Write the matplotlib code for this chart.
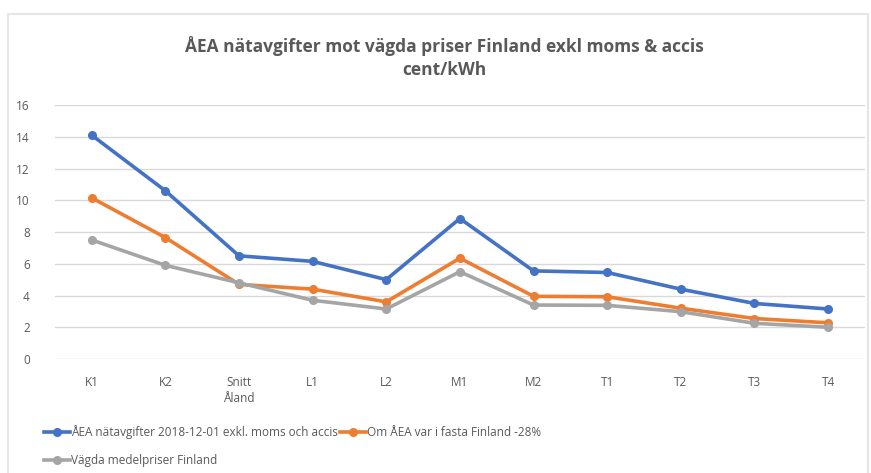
import matplotlib.pyplot as plt
from matplotlib.patches import Rectangle

plt.rcParams['font.family'] = ['Open Sans', 'DejaVu Sans']

# categories and values (cent/kWh)
categories = ['K1', 'K2', 'Snitt\nÅland', 'L1', 'L2', 'M1', 'M2', 'T1', 'T2', 'T3', 'T4']
aea_fees = [14.1, 10.6, 6.5, 6.15, 5.0, 8.85, 5.55, 5.45, 4.4, 3.5, 3.15]
aea_minus28 = [10.15, 7.65, 4.7, 4.4, 3.6, 6.35, 3.95, 3.92, 3.2, 2.55, 2.28]
fin_avg = [7.5, 5.9, 4.8, 3.7, 3.15, 5.5, 3.4, 3.38, 2.98, 2.25, 2.0]

labels = ['ÅEA nätavgifter 2018-12-01 exkl. moms och accis',
          'Om ÅEA var i fasta Finland -28%',
          'Vägda medelpriser Finland']
colors = ['#4472C4', '#ED7D31', '#A5A5A5']
txt = '#595959'

fig = plt.figure(figsize=(8.71, 4.73), dpi=100)
ax = fig.add_axes([0.063, 0.241, 0.93, 0.537])

x = range(len(categories))
lines = []
for vals, lab, col in zip([aea_fees, aea_minus28, fin_avg], labels, colors):
    ln, = ax.plot(x, vals, color=col, lw=2.6, marker='o', ms=5.5, label=lab)
    lines.append(ln)

ax.set_xlim(-0.5, len(categories) - 0.5)
ax.set_ylim(0, 16)
ax.set_yticks(range(0, 17, 2))
ax.set_xticks(list(x))
ax.set_xticklabels(categories, linespacing=1.35)
ax.grid(axis='y', color='#D9D9D9', lw=1)
ax.set_axisbelow(True)
for s in ax.spines.values():
    s.set_visible(False)
ax.tick_params(length=0, colors=txt, labelsize=8.5)
ax.tick_params(axis='x', pad=12)
ax.tick_params(axis='y', pad=18)

fig.text(0.51, 0.878, 'ÅEA nätavgifter mot vägda priser Finland exkl moms & accis\ncent/kWh',
         ha='center', va='center', fontsize=12.5, fontweight='bold', color=txt, linespacing=1.4)

# legend: blue+orange on row 1, gray on row 2
leg = fig.legend([lines[0], lines[2], lines[1]], [labels[0], labels[2], labels[1]],
                 ncol=2, loc='upper left', bbox_to_anchor=(0.045, 0.112),
                 frameon=False, fontsize=8.5, handlelength=2.2, handletextpad=0.1,
                 columnspacing=0.2, labelspacing=1.3, borderaxespad=0)
for t in leg.get_texts():
    t.set_color(txt)

# chart border
fig.patches.append(Rectangle((0.009, -0.01), 0.988, 0.98, transform=fig.transFigure,
                             fill=False, edgecolor='#E6E6E6', lw=1.5))

fig.savefig('out.png', dpi=100)
